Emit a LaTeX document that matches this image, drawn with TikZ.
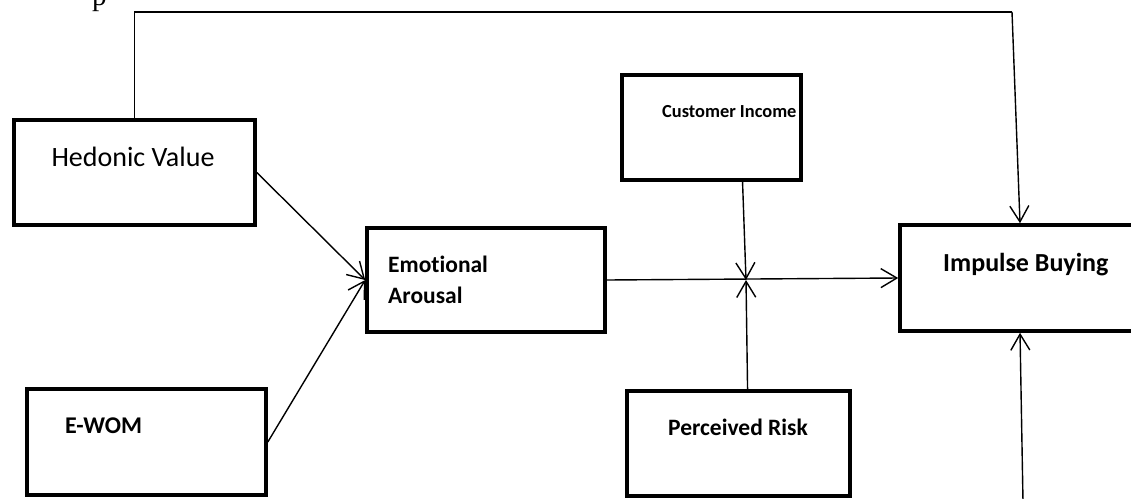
\documentclass[tikz,border=0pt]{standalone}
\usepackage{fontspec}
\setmainfont{Carlito}[Ligatures=NoCommon]
\newfontfamily\bodyserif{Liberation Serif}
\usetikzlibrary{arrows.meta,calc}

\tikzset{
  box/.style={draw, line width=3.6pt, rectangle, inner sep=0pt},
  conn/.style={line width=1.4pt, -{Straight Barb[length=16pt,width=19pt]}},
  plain/.style={line width=1.4pt},
  lbl/.style={anchor=base west, inner sep=0pt, font=\bfseries\fontsize{23.5}{31}\selectfont},
}

\begin{document}
\begin{tikzpicture}[x=1pt,y=-1pt]
  \useasboundingbox (0,0) rectangle (1131,498);
  \clip (0,0) rectangle (1131,498);

  % stray letter of the running text above the figure
  \node[anchor=base west, inner sep=0pt, font=\bodyserif\fontsize{29}{30}\selectfont] (cap) at (92,5) {p};

  % boxes
  \node[box, minimum width=241pt, minimum height=105pt] (hed) at (134.5,172.5) {};
  \node[box, minimum width=238pt, minimum height=104pt] (emo) at (486,280) {};
  \node[box, minimum width=239pt, minimum height=106pt] (ewom) at (146.5,442) {};
  \node[box, minimum width=179pt, minimum height=105pt] (cin) at (711.5,127.5) {};
  \node[box, minimum width=223pt, minimum height=105pt] (prk) at (738.5,443.5) {};
  \node[box, minimum width=240pt, minimum height=106pt] (imp) at (1020,278) {};

  % box texts
  \node[anchor=base, inner sep=0pt, font=\fontsize{28}{32}\selectfont] (hedT) at (133,166) {Hedonic Value};
  \node[lbl] (emoT) at (388,272) {\begin{tabular}[t]{@{}l@{}}Emotional\\Arousal\end{tabular}};
  \node[lbl, font=\bfseries\fontsize{24}{28}\selectfont] (ewomT) at (65,433) {E-WOM};
  \node[lbl, font=\bfseries\fontsize{18.4}{22}\selectfont] (cinT) at (662,117) {Customer Income};
  \node[lbl] (prkT) at (668,435) {Perceived Risk};
  \node[lbl, font=\bfseries\fontsize{26}{30}\selectfont] (impT) at (943,271) {Impulse Buying};

  % connectors
  \coordinate (tr) at (1012,12);
  \coordinate (jn) at (746,280);
  \coordinate (bot) at (1023,502);

  \draw[plain] (hed.north) |- (tr);
  \draw[conn] (tr) -- (imp.north);
  \draw[conn] (hed.east) -- (emo.west);
  \draw[conn] (ewom.east) -- (emo.west);
  \draw[conn] (emo.east) -- (imp.west);
  \draw[conn] ($(cin.south west)!0.67!(cin.south east)$) -- (jn);
  \draw[conn] ($(prk.north west)!0.54!(prk.north east)$) -- (jn);
  \draw[conn] (bot) -- (imp.south);
\end{tikzpicture}
\end{document}
